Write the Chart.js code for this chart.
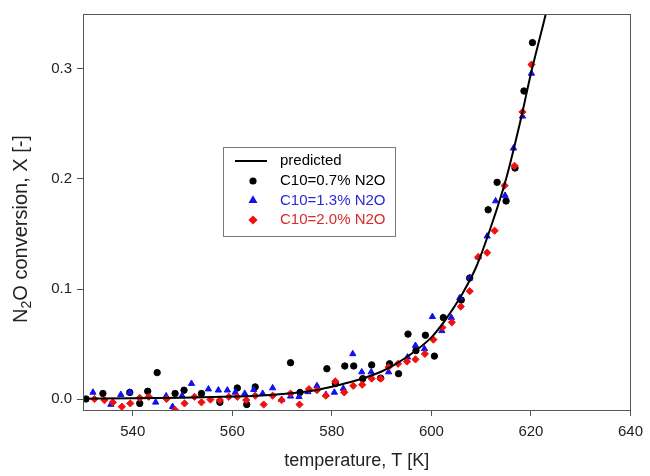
<!DOCTYPE html>
<html lang="en">
<head>
<meta charset="UTF-8">
<title>N2O conversion vs temperature</title>
<script src="https://cdn.jsdelivr.net/npm/chart.js"></script>
<style>
  html, body { margin: 0; padding: 0; background: #fff; }
  #wrap { width: 650px; height: 476px; }
</style>
</head>
<body>
<div id="wrap"><canvas id="chart" width="650" height="476"></canvas></div>
<script>
// tick values
const xTicks = [540, 560, 580, 600, 620, 640];
const yTicks = [0.0, 0.1, 0.2, 0.3];

// predicted curve
const predT = [530, 540, 550, 560, 565, 570, 575, 580, 585, 590, 595, 600, 603, 606, 609, 612, 615, 618, 620, 622.6, 623.3];
const predX = [0.0003, 0.0006, 0.0012, 0.0022, 0.003, 0.0045, 0.0068, 0.0112, 0.017, 0.025, 0.038, 0.056, 0.073, 0.094, 0.120, 0.157, 0.200, 0.255, 0.296, 0.343, 0.356];

// C10 = 0.7% N2O (black circles)
const t07 = [530.6, 534.0, 539.4, 541.4, 543.0, 544.9, 548.5, 550.3, 553.8, 557.5, 561.0, 562.9, 564.6, 571.7, 573.6, 579.0, 580.7, 582.6, 584.4, 586.2, 588.0, 589.8, 591.6, 593.4, 595.3, 596.9, 598.8, 600.6, 602.4, 606.0, 607.7, 611.4, 613.2, 615.0, 616.8, 618.6, 620.3];
const x07 = [0.000, 0.005, 0.006, -0.004, 0.007, 0.024, 0.005, 0.008, 0.005, -0.003, 0.010, -0.005, 0.011, 0.033, 0.006, 0.0275, 0.014, 0.030, 0.030, 0.0185, 0.031, 0.019, 0.032, 0.023, 0.059, 0.044, 0.058, 0.039, 0.074, 0.090, 0.110, 0.172, 0.197, 0.180, 0.210, 0.280, 0.324];

// C10 = 1.3% N2O (blue triangles)
const t13 = [532.0, 535.6, 537.6, 539.4, 544.6, 546.7, 548.0, 549.9, 551.8, 555.2, 557.2, 559.0, 560.6, 562.5, 564.3, 566.1, 568.1, 569.9, 571.7, 573.4, 575.2, 577.0, 578.8, 580.5, 582.3, 584.2, 586.0, 587.9, 591.4, 595.2, 596.8, 598.6, 600.2, 602.1, 604.0, 605.7, 607.7, 609.4, 611.2, 612.9, 614.8, 616.5, 618.3, 620.1];
const x13 = [0.006, -0.005, 0.004, 0.006, -0.003, 0.0027, -0.007, 0.003, 0.014, 0.009, 0.008, 0.008, 0.006, 0.005, 0.0085, 0.005, 0.010, -0.0005, 0.0025, 0.002, 0.0065, 0.012, 0.004, 0.006, 0.0095, 0.041, 0.0245, 0.0245, 0.0245, 0.038, 0.0486, 0.0456, 0.0748, 0.062, 0.074, 0.092, 0.110, 0.129, 0.148, 0.180, 0.185, 0.228, 0.257, 0.296];

// C10 = 2.0% N2O (red diamonds)
const t20 = [532.3, 534.3, 536.0, 537.8, 539.5, 541.4, 543.2, 546.8, 548.5, 550.4, 552.4, 553.8, 555.6, 557.5, 559.3, 561.0, 562.8, 564.6, 566.3, 568.1, 569.9, 571.7, 573.5, 575.4, 577.0, 578.8, 580.7, 582.5, 584.3, 586.1, 588.0, 589.8, 591.4, 593.3, 595.1, 596.8, 598.7, 600.4, 602.2, 604.1, 605.9, 607.7, 609.4, 611.2, 612.7, 614.7, 616.7, 618.3, 620.1];
const x20 = [0.000, -0.001, -0.003, -0.007, -0.004, 0.001, 0.002, 0.000, -0.010, -0.004, 0.002, -0.003, -0.0005, -0.001, 0.002, 0.002, -0.001, 0.003, -0.005, 0.003, -0.001, 0.005, -0.005, 0.009, 0.008, 0.003, 0.016, 0.006, 0.012, 0.013, 0.0185, 0.0185, 0.029, 0.032, 0.034, 0.036, 0.041, 0.054, 0.065, 0.0697, 0.084, 0.098, 0.129, 0.133, 0.153, 0.194, 0.212, 0.261, 0.304];

const seriesNames = ['predicted', 'C10=0.7% N2O', 'C10=1.3% N2O', 'C10=2.0% N2O'];
const BLUE = '#1010f0';
const RED = '#f01010';
const FONT = '"Liberation Sans", Arial, sans-serif';

function pts(xs, ys) {
  return xs.map((x, i) => ({ x: x, y: ys[i] }));
}

// frame around plot area
const framePlugin = {
  id: 'frame',
  afterDraw(chart) {
    const a = chart.chartArea, ctx = chart.ctx;
    ctx.save();
    ctx.strokeStyle = '#555';
    ctx.lineWidth = 1;
    ctx.strokeRect(Math.round(a.left) + 0.5, Math.round(a.top) + 0.5,
      Math.round(a.right - a.left), Math.round(a.bottom - a.top));
    ctx.restore();
  }
};

// axis titles (y title has a subscript)
const titlesPlugin = {
  id: 'titles',
  afterDraw(chart) {
    const ctx = chart.ctx, a = chart.chartArea;
    ctx.save();
    ctx.fillStyle = '#222';
    ctx.textBaseline = 'middle';
    ctx.textAlign = 'center';
    ctx.font = '18px ' + FONT;
    ctx.fillText('temperature, T [K]', (a.left + a.right) / 2, 461);

    ctx.translate(21, 229);
    ctx.rotate(-Math.PI / 2);
    ctx.textAlign = 'left';
    const big = '20px ' + FONT, small = '14px ' + FONT;
    ctx.font = big; const w1 = ctx.measureText('N').width;
    ctx.font = small; const w2 = ctx.measureText('2').width;
    ctx.font = big; const w3 = ctx.measureText('O conversion, X [-]').width;
    let x = -(w1 + w2 + w3) / 2;
    ctx.font = big; ctx.fillText('N', x, 0); x += w1;
    ctx.font = small; ctx.fillText('2', x, 6); x += w2;
    ctx.font = big; ctx.fillText('O conversion, X [-]', x, 0);
    ctx.restore();
  }
};

// boxed legend inside the plot
const legendPlugin = {
  id: 'boxLegend',
  afterDraw(chart) {
    const ctx = chart.ctx;
    ctx.save();
    ctx.fillStyle = '#fff';
    ctx.fillRect(223, 147, 173, 90);
    ctx.strokeStyle = '#777';
    ctx.lineWidth = 1;
    ctx.strokeRect(223.5, 147.5, 172, 89);
    const rows = [161, 181, 200.5, 220];
    ctx.font = '15px ' + FONT;
    ctx.textBaseline = 'middle';
    ctx.textAlign = 'left';
    // predicted
    ctx.strokeStyle = '#000';
    ctx.lineWidth = 2;
    ctx.beginPath(); ctx.moveTo(235, rows[0]); ctx.lineTo(267, rows[0]); ctx.stroke();
    ctx.fillStyle = '#000';
    ctx.fillText(seriesNames[0], 280, rows[0]);
    const marks = [
      { style: 'circle', color: '#000', r: 2.6, text: '#000' },
      { style: 'triangle', color: BLUE, r: 3.2, text: '#2a2ad8' },
      { style: 'rectRot', color: RED, r: 3.2, text: '#d82a2a' }
    ];
    marks.forEach((m, i) => {
      ctx.fillStyle = m.color;
      ctx.strokeStyle = m.color;
      Chart.helpers.drawPoint(ctx, { pointStyle: m.style, radius: m.r, rotation: 0, borderWidth: 1 }, 253, rows[i + 1]);
      ctx.fillStyle = m.text;
      ctx.fillText(seriesNames[i + 1], 280, rows[i + 1]);
    });
    ctx.restore();
  }
};

const ctx = document.getElementById('chart').getContext('2d');
new Chart(ctx, {
  type: 'scatter',
  data: {
    datasets: [
      {
        label: seriesNames[0],
        data: pts(predT, predX),
        showLine: true,
        borderColor: '#000',
        borderWidth: 2,
        pointRadius: 0,
        cubicInterpolationMode: 'monotone',
        order: 0
      },
      {
        label: seriesNames[3],
        data: pts(t20, x20),
        pointStyle: 'rectRot',
        pointRadius: 3.6,
        backgroundColor: RED,
        borderColor: RED,
        borderWidth: 1,
        order: 1
      },
      {
        label: seriesNames[2],
        data: pts(t13, x13),
        pointStyle: 'triangle',
        pointRadius: 3.6,
        backgroundColor: BLUE,
        borderColor: BLUE,
        borderWidth: 1,
        order: 2
      },
      {
        label: seriesNames[1],
        data: pts(t07, x07),
        pointStyle: 'circle',
        pointRadius: 3.2,
        backgroundColor: '#000',
        borderColor: '#000',
        borderWidth: 1,
        order: 3
      }
    ]
  },
  options: {
    responsive: false,
    animation: false,
    events: [],
    layout: { padding: { top: 12, right: 14, left: 0, bottom: 0 } },
    plugins: {
      legend: { display: false },
      tooltip: { enabled: false }
    },
    scales: {
      x: {
        type: 'linear',
        min: 530,
        max: 640,
        afterBuildTicks: s => { s.ticks = xTicks.map(v => ({ value: v })); },
        afterFit: s => { s.height = 66; },
        ticks: {
          color: '#222',
          font: { size: 15, family: FONT },
          padding: 7,
          maxRotation: 0,
          callback: v => String(v)
        },
        grid: { drawOnChartArea: false, drawTicks: true, tickLength: 6, color: '#555' },
        border: { display: true, color: '#555' }
      },
      y: {
        type: 'linear',
        min: -0.01,
        max: 0.35,
        afterBuildTicks: s => { s.ticks = yTicks.map(v => ({ value: v })); },
        afterFit: s => { s.width = 83; },
        ticks: {
          color: '#222',
          font: { size: 15, family: FONT },
          padding: 5,
          callback: v => Number(v).toFixed(1)
        },
        grid: { drawOnChartArea: false, drawTicks: true, tickLength: 6, color: '#555' },
        border: { display: true, color: '#555' }
      }
    }
  },
  plugins: [framePlugin, titlesPlugin, legendPlugin]
});
</script>
</body>
</html>
